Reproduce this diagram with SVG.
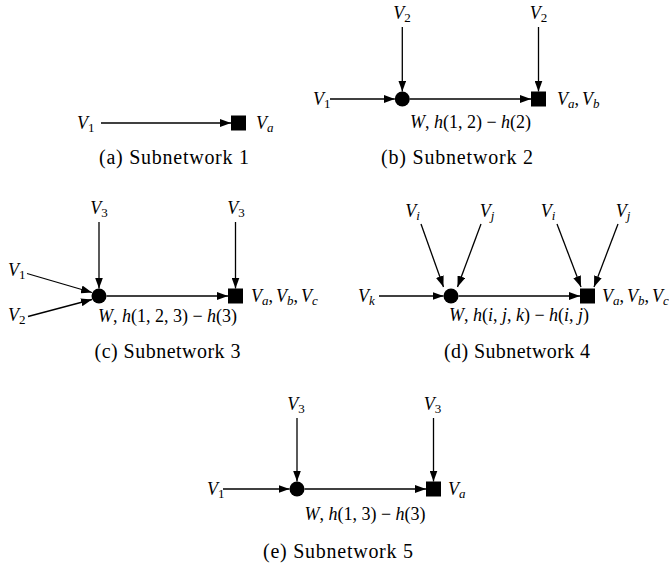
<svg xmlns="http://www.w3.org/2000/svg" width="669" height="568" viewBox="0 0 669 568">
<defs>
<style>
.ln{stroke:#000;stroke-width:1.3;fill:none}
.nd{fill:#000}
</style>
<marker id="ah" markerUnits="userSpaceOnUse" markerWidth="11" markerHeight="8" refX="11" refY="4" orient="auto">
<path d="M0,0 L11,4 L0,8 z" fill="#000"/>
</marker>
</defs>
<rect width="669" height="568" fill="#fff"/>
<g id="nodes" fill="#000">
<g id="a-v1"><text font-family="Liberation Serif" font-size="18" x="77" y="129"><tspan font-style="italic">V</tspan><tspan font-size="13" dy="3">1</tspan></text></g>
<g id="a-sink"><rect class="nd" x="231" y="115.5" width="15" height="15"/><text font-family="Liberation Serif" font-size="18" x="256" y="129"><tspan font-style="italic">V</tspan><tspan font-size="13" font-style="italic" dy="3">a</tspan></text></g>
<g id="b-v2l"><text font-family="Liberation Serif" font-size="18" x="402" y="19" text-anchor="middle"><tspan font-style="italic">V</tspan><tspan font-size="13" dy="3">2</tspan></text></g>
<g id="b-v2r"><text font-family="Liberation Serif" font-size="18" x="538.5" y="19" text-anchor="middle"><tspan font-style="italic">V</tspan><tspan font-size="13" dy="3">2</tspan></text></g>
<g id="b-v1"><text font-family="Liberation Serif" font-size="18" x="313" y="105"><tspan font-style="italic">V</tspan><tspan font-size="13" dy="3">1</tspan></text></g>
<g id="b-relay"><circle class="nd" cx="402.3" cy="99" r="7.5"/></g>
<g id="b-sink"><rect class="nd" x="531" y="91.5" width="15" height="15"/><text font-family="Liberation Serif" font-size="18" x="557" y="105"><tspan font-style="italic">V</tspan><tspan font-size="13" font-style="italic" dy="3">a</tspan><tspan dy="-3">,</tspan><tspan font-style="italic" dx="3">V</tspan><tspan font-size="13" font-style="italic" dy="3">b</tspan></text></g>
<g id="c-v3l"><text font-family="Liberation Serif" font-size="18" x="99" y="214" text-anchor="middle"><tspan font-style="italic">V</tspan><tspan font-size="13" dy="3">3</tspan></text></g>
<g id="c-v3r"><text font-family="Liberation Serif" font-size="18" x="236" y="214" text-anchor="middle"><tspan font-style="italic">V</tspan><tspan font-size="13" dy="3">3</tspan></text></g>
<g id="c-v1"><text font-family="Liberation Serif" font-size="18" x="8" y="276"><tspan font-style="italic">V</tspan><tspan font-size="13" dy="3">1</tspan></text></g>
<g id="c-v2"><text font-family="Liberation Serif" font-size="18" x="8" y="321"><tspan font-style="italic">V</tspan><tspan font-size="13" dy="3">2</tspan></text></g>
<g id="c-relay"><circle class="nd" cx="99" cy="296" r="7.5"/></g>
<g id="c-sink"><rect class="nd" x="228" y="288.5" width="15" height="15"/><text font-family="Liberation Serif" font-size="18" x="251" y="302"><tspan font-style="italic">V</tspan><tspan font-size="13" font-style="italic" dy="3">a</tspan><tspan dy="-3">,</tspan><tspan font-style="italic" dx="3">V</tspan><tspan font-size="13" font-style="italic" dy="3">b</tspan><tspan dy="-3">,</tspan><tspan font-style="italic" dx="3">V</tspan><tspan font-size="13" font-style="italic" dy="3">c</tspan></text></g>
<g id="d-vi1"><text font-family="Liberation Serif" font-size="18" x="412.5" y="217" text-anchor="middle"><tspan font-style="italic">V</tspan><tspan font-size="13" font-style="italic" dy="3">i</tspan></text></g>
<g id="d-vj1"><text font-family="Liberation Serif" font-size="18" x="487" y="217" text-anchor="middle"><tspan font-style="italic">V</tspan><tspan font-size="13" font-style="italic" dy="3">j</tspan></text></g>
<g id="d-vi2"><text font-family="Liberation Serif" font-size="18" x="548" y="217" text-anchor="middle"><tspan font-style="italic">V</tspan><tspan font-size="13" font-style="italic" dy="3">i</tspan></text></g>
<g id="d-vj2"><text font-family="Liberation Serif" font-size="18" x="623" y="217" text-anchor="middle"><tspan font-style="italic">V</tspan><tspan font-size="13" font-style="italic" dy="3">j</tspan></text></g>
<g id="d-vk"><text font-family="Liberation Serif" font-size="18" x="358" y="302"><tspan font-style="italic">V</tspan><tspan font-size="13" font-style="italic" dy="3">k</tspan></text></g>
<g id="d-relay"><circle class="nd" cx="451" cy="296" r="7.5"/></g>
<g id="d-sink"><rect class="nd" x="580" y="288.5" width="15" height="15"/><text font-family="Liberation Serif" font-size="18" x="602" y="302"><tspan font-style="italic">V</tspan><tspan font-size="13" font-style="italic" dy="3">a</tspan><tspan dy="-3">,</tspan><tspan font-style="italic" dx="3">V</tspan><tspan font-size="13" font-style="italic" dy="3">b</tspan><tspan dy="-3">,</tspan><tspan font-style="italic" dx="3">V</tspan><tspan font-size="13" font-style="italic" dy="3">c</tspan></text></g>
<g id="e-v3l"><text font-family="Liberation Serif" font-size="18" x="296" y="410" text-anchor="middle"><tspan font-style="italic">V</tspan><tspan font-size="13" dy="3">3</tspan></text></g>
<g id="e-v3r"><text font-family="Liberation Serif" font-size="18" x="432.5" y="410" text-anchor="middle"><tspan font-style="italic">V</tspan><tspan font-size="13" dy="3">3</tspan></text></g>
<g id="e-v1"><text font-family="Liberation Serif" font-size="18" x="207" y="495"><tspan font-style="italic">V</tspan><tspan font-size="13" dy="3">1</tspan></text></g>
<g id="e-relay"><circle class="nd" cx="297" cy="489" r="7.5"/></g>
<g id="e-sink"><rect class="nd" x="426" y="481.5" width="15" height="15"/><text font-family="Liberation Serif" font-size="18" x="448" y="495"><tspan font-style="italic">V</tspan><tspan font-size="13" font-style="italic" dy="3">a</tspan></text></g>
</g>
<g id="connectors">
<line class="ln" x1="101" y1="123" x2="231" y2="123" marker-end="url(#ah)"/>
<line class="ln" x1="402.3" y1="27" x2="402.3" y2="91.5" marker-end="url(#ah)"/>
<line class="ln" x1="538.5" y1="27" x2="538.5" y2="91.5" marker-end="url(#ah)"/>
<line class="ln" x1="330" y1="99" x2="394.8" y2="99" marker-end="url(#ah)"/>
<line class="ln" x1="409.8" y1="99" x2="531" y2="99" marker-end="url(#ah)"/>
<line class="ln" x1="99" y1="222" x2="99" y2="288.5" marker-end="url(#ah)"/>
<line class="ln" x1="235.5" y1="222" x2="235.5" y2="288.5" marker-end="url(#ah)"/>
<line class="ln" x1="27" y1="273.5" x2="92" y2="292.5" marker-end="url(#ah)"/>
<line class="ln" x1="28" y1="316.5" x2="92" y2="299.5" marker-end="url(#ah)"/>
<line class="ln" x1="106.5" y1="296" x2="228" y2="296" marker-end="url(#ah)"/>
<line class="ln" x1="421" y1="224" x2="443.5" y2="287" marker-end="url(#ah)"/>
<line class="ln" x1="481" y1="224" x2="457.5" y2="287" marker-end="url(#ah)"/>
<line class="ln" x1="557" y1="224" x2="581" y2="287" marker-end="url(#ah)"/>
<line class="ln" x1="618" y1="224" x2="594" y2="287" marker-end="url(#ah)"/>
<line class="ln" x1="379" y1="296" x2="443.5" y2="296" marker-end="url(#ah)"/>
<line class="ln" x1="458.5" y1="296" x2="580" y2="296" marker-end="url(#ah)"/>
<line class="ln" x1="297" y1="418" x2="297" y2="481.5" marker-end="url(#ah)"/>
<line class="ln" x1="433.5" y1="418" x2="433.5" y2="481.5" marker-end="url(#ah)"/>
<line class="ln" x1="223" y1="489" x2="289.5" y2="489" marker-end="url(#ah)"/>
<line class="ln" x1="304.5" y1="489" x2="426" y2="489" marker-end="url(#ah)"/>
</g>
<g id="labels" fill="#000">
<text font-family="Liberation Serif" font-size="18" x="470.5" y="128" text-anchor="middle"><tspan font-style="italic">W</tspan>, <tspan font-style="italic">h</tspan>(1, 2) − <tspan font-style="italic">h</tspan>(2)</text>
<text font-family="Liberation Serif" font-size="18" x="167.5" y="322" text-anchor="middle"><tspan font-style="italic">W</tspan>, <tspan font-style="italic">h</tspan>(1, 2, 3) − <tspan font-style="italic">h</tspan>(3)</text>
<text font-family="Liberation Serif" font-size="18" x="519" y="321" text-anchor="middle"><tspan font-style="italic">W</tspan>, <tspan font-style="italic">h</tspan>(<tspan font-style="italic">i</tspan>, <tspan font-style="italic">j</tspan>, <tspan font-style="italic">k</tspan>) − <tspan font-style="italic">h</tspan>(<tspan font-style="italic">i</tspan>, <tspan font-style="italic">j</tspan>)</text>
<text font-family="Liberation Serif" font-size="18" x="365" y="520" text-anchor="middle"><tspan font-style="italic">W</tspan>, <tspan font-style="italic">h</tspan>(1, 3) − <tspan font-style="italic">h</tspan>(3)</text>
<text font-family="Liberation Serif" font-size="20" x="174" y="163.5" text-anchor="middle" textLength="150">(a) Subnetwork 1</text>
<text font-family="Liberation Serif" font-size="20" x="457" y="163.5" text-anchor="middle" textLength="152">(b) Subnetwork 2</text>
<text font-family="Liberation Serif" font-size="20" x="167.5" y="357.5" text-anchor="middle" textLength="146">(c) Subnetwork 3</text>
<text font-family="Liberation Serif" font-size="20" x="517" y="357.5" text-anchor="middle" textLength="146">(d) Subnetwork 4</text>
<text font-family="Liberation Serif" font-size="20" x="338" y="557.5" text-anchor="middle" textLength="150">(e) Subnetwork 5</text>
</g>
</svg>
